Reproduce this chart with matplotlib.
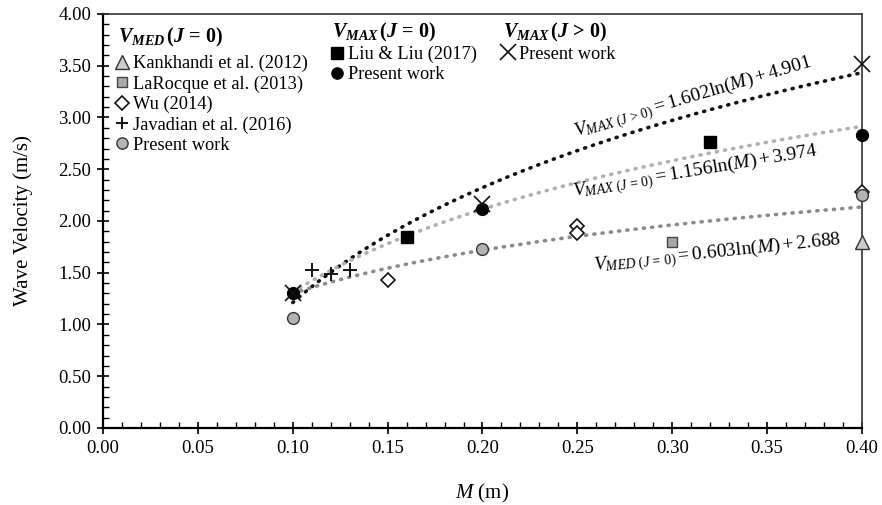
import numpy as np
import matplotlib
matplotlib.use("Agg")
import matplotlib.pyplot as plt
from matplotlib.ticker import MultipleLocator, FormatStrFormatter
from matplotlib.lines import Line2D

plt.rcParams['font.family'] = ['Liberation Serif', 'DejaVu Serif']
plt.rcParams['mathtext.fontset'] = 'custom'
plt.rcParams['mathtext.rm'] = 'Liberation Serif'
plt.rcParams['mathtext.it'] = 'Liberation Serif:italic'
plt.rcParams['mathtext.bf'] = 'Liberation Serif:bold'
plt.rcParams['mathtext.bfit'] = 'Liberation Serif:bold:italic'

# ---- data ----
kank_x = [0.40]; kank_y = [1.80]
laro_x = [0.30]; laro_y = [1.80]
wu_x = [0.15, 0.25, 0.25, 0.40]; wu_y = [1.43, 1.95, 1.88, 2.28]
jav_x = [0.11, 0.12, 0.13]; jav_y = [1.53, 1.49, 1.53]
med_x = [0.10, 0.20, 0.40]; med_y = [1.06, 1.73, 2.25]
liu_x = [0.16, 0.32]; liu_y = [1.85, 2.76]
max0_x = [0.10, 0.20, 0.40]; max0_y = [1.30, 2.12, 2.83]
maxj_x = [0.10, 0.20, 0.40]; maxj_y = [1.30, 2.16, 3.52]

# trend-line coefficients (as printed on the chart): V = a ln(M) + b
fit_med = (0.603, 2.688)
fit_max0 = (1.156, 3.974)
fit_maxj = (1.602, 4.901)
fit_range = (0.10, 0.40)

fig = plt.figure(figsize=(8.82, 5.05), dpi=100)
ax = fig.add_axes([0.1168, 0.1525, 0.8605, 0.8198])

dot = (0, (0.3, 2.0))
mgrid = np.linspace(fit_range[0], fit_range[1], 200)
ax.plot(mgrid, fit_maxj[0] * np.log(mgrid) + fit_maxj[1], color='#111111',
        lw=2.6, linestyle=dot, dash_capstyle='round', zorder=2)
ax.plot(mgrid, fit_max0[0] * np.log(mgrid) + fit_max0[1], color='#b0b0b0',
        lw=2.6, linestyle=dot, dash_capstyle='round', zorder=2)
ax.plot(mgrid, fit_med[0] * np.log(mgrid) + fit_med[1], color='#8a8a8a',
        lw=2.6, linestyle=dot, dash_capstyle='round', zorder=2)

ms = 8.5
h_kank, = ax.plot(kank_x, kank_y, linestyle='none', marker='^', ms=ms + 1.5,
                  mfc='#cccccc', mec='#333333', mew=1.0, zorder=4, clip_on=False)
h_laro, = ax.plot(laro_x, laro_y, linestyle='none', marker='s', ms=ms - 1,
                  mfc='#a8a8a8', mec='#444444', mew=1.0, zorder=4, clip_on=False)
h_wu, = ax.plot(wu_x, wu_y, linestyle='none', marker='D', ms=ms - 1.5,
                mfc='white', mec='#111111', mew=1.2, zorder=4, clip_on=False)
h_jav, = ax.plot(jav_x, jav_y, linestyle='none', marker='+', ms=ms + 1,
                 mec='#111111', mew=1.4, zorder=4, clip_on=False)
h_med, = ax.plot(med_x, med_y, linestyle='none', marker='o', ms=ms,
                 mfc='#b4b4b4', mec='#333333', mew=1.0, zorder=5, clip_on=False)
h_liu, = ax.plot(liu_x, liu_y, linestyle='none', marker='s', ms=ms,
                 mfc='black', mec='black', zorder=4, clip_on=False)
h_max0, = ax.plot(max0_x, max0_y, linestyle='none', marker='o', ms=ms,
                  mfc='black', mec='black', zorder=4, clip_on=False)
h_maxj, = ax.plot(maxj_x, maxj_y, linestyle='none', marker='x', ms=ms + 3,
                  mec='#111111', mew=1.2, zorder=4, clip_on=False)

ax.set_xlim(0, 0.40)
ax.set_ylim(0, 4.0)
ax.xaxis.set_major_locator(MultipleLocator(0.05))
ax.xaxis.set_minor_locator(MultipleLocator(0.01))
ax.yaxis.set_major_locator(MultipleLocator(0.5))
ax.yaxis.set_minor_locator(MultipleLocator(0.1))
ax.xaxis.set_major_formatter(FormatStrFormatter('%.2f'))
ax.yaxis.set_major_formatter(FormatStrFormatter('%.2f'))
ax.tick_params(which='major', direction='inout', length=9, width=1.2,
               labelsize=13.5, top=False, right=False, pad=4)
ax.tick_params(which='minor', direction='in', length=4, width=1.0,
               top=False, right=False)
for s in ['left', 'bottom']:
    ax.spines[s].set_linewidth(1.6)
    ax.spines[s].set_color('black')
for s in ['top', 'right']:
    ax.spines[s].set_linewidth(1.2)
    ax.spines[s].set_color('#333333')

ax.set_ylabel('Wave Velocity (m/s)', fontsize=15, labelpad=18)
ax.set_xlabel(r'$M$ (m)', fontsize=15, labelpad=18)

# equation labels
ax.text(0.311, 3.19, r'$V_{MAX\ (J\,>\,0)} = 1.602\mathrm{ln}(M) + 4.901$',
        fontsize=14, rotation=16.5, ha='center', va='center', zorder=6)
ax.text(0.312, 2.47, r'$V_{MAX\ (J\,=\,0)} = 1.156\mathrm{ln}(M) + 3.974$',
        fontsize=14, rotation=9.5, ha='center', va='center', zorder=6)
ax.text(0.324, 1.69, r'$V_{MED\ (J\,=\,0)} = 0.603\mathrm{ln}(M) + 2.688$',
        fontsize=14, rotation=6, ha='center', va='center', zorder=6)

# legends
common = dict(frameon=False, fontsize=13.2, handlelength=0.7,
              handletextpad=0.25, labelspacing=0.17, borderpad=0.0,
              borderaxespad=0.0)


def proxy(h):
    return Line2D([], [], linestyle='none', marker=h.get_marker(),
                  ms=h.get_markersize() * 0.95, mfc=h.get_markerfacecolor(),
                  mec=h.get_markeredgecolor(), mew=h.get_markeredgewidth())


title_kw = dict(transform=ax.transAxes, fontsize=14.5, ha='left', va='center')
ax.text(0.0198, 0.944,
        r'$\mathbfit{V}_{\mathbfit{MED}}\,\mathbf{(}\mathbfit{J}\,\mathbf{=\,0)}$',
        **title_kw)
ax.text(0.3017, 0.956,
        r'$\mathbfit{V}_{\mathbfit{MAX}}\,\mathbf{(}\mathbfit{J}\,\mathbf{=\,0)}$',
        **title_kw)
ax.text(0.527, 0.956,
        r'$\mathbfit{V}_{\mathbfit{MAX}}\,\mathbf{(}\mathbfit{J}\,\mathbf{>\,0)}$',
        **title_kw)

leg1 = ax.legend([proxy(h) for h in [h_kank, h_laro, h_wu, h_jav, h_med]],
                 ['Kankhandi et al. (2012)', 'LaRocque et al. (2013)',
                  'Wu (2014)', 'Javadian et al. (2016)', 'Present work'],
                 loc='upper left', bbox_to_anchor=(0.0165, 0.901), **common)
ax.add_artist(leg1)
leg2 = ax.legend([proxy(h) for h in [h_liu, h_max0]],
                 ['Liu & Liu (2017)', 'Present work'],
                 loc='upper left', bbox_to_anchor=(0.2997, 0.923), **common)
ax.add_artist(leg2)
leg3 = ax.legend([proxy(h_maxj)], ['Present work'],
                 loc='upper left', bbox_to_anchor=(0.525, 0.923), **common)

fig.savefig('out.png', dpi=100)
